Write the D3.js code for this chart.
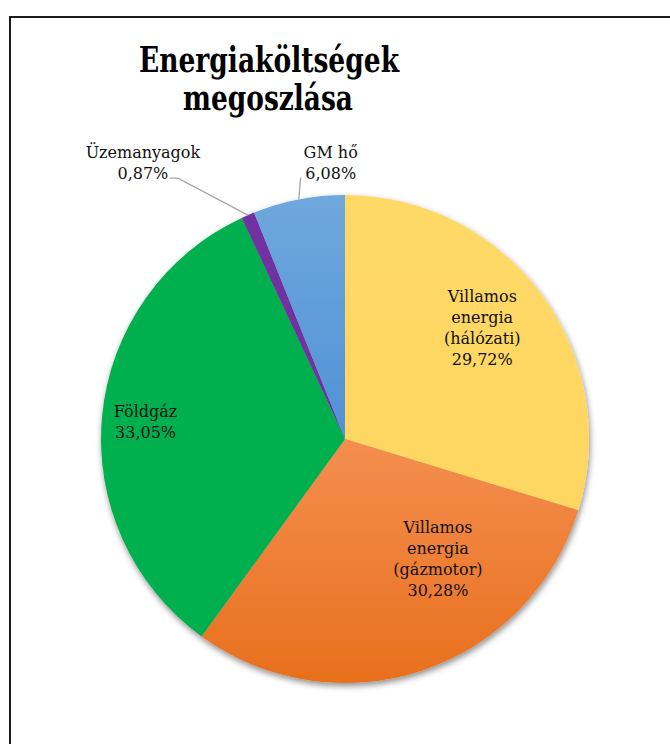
<!DOCTYPE html>
<html>
<head>
<meta charset="utf-8">
<script src="https://cdn.jsdelivr.net/npm/d3@7"></script>
<style>
  body { margin:0; background:#fff; }
  svg { display:block; }
</style>
</head>
<body>
<div id="chart"></div>
<script>
// donnees du graphique
var categories = ["Villamos energia (hálózati)", "Villamos energia (gázmotor)", "Földgáz", "Üzemanyagok", "GM hő"];
var labelLines = [["Villamos", "energia", "(hálózati)"], ["Villamos", "energia", "(gázmotor)"], ["Földgáz"], ["Üzemanyagok"], ["GM hő"]];
var values = [29.72, 30.28, 33.05, 0.87, 6.08];
var valueLabels = ["29,72%", "30,28%", "33,05%", "0,87%", "6,08%"];
var title = ["Energiaköltségek", "megoszlása"];

// styles
var fills = [["#FFD966", "#FED662"], ["#F48E4F", "#E8701D"], ["#00B050", "#00B050"], ["#7030A0", "#7030A0"], ["#70A8DD", "#4F91D6"]];
// decalage des etiquettes par rapport au centroide (layout)
var labelNudge = [[-2, -7], [38, -44], [-27, 0], [null], [null]];
var outsideLabel = [null, null, null, [-105, -57], [32, -41]];

var width = 670, height = 744;
var cx = 345, cy = 439, radius = 244;

var svg = d3.select("#chart").append("svg").attr("width", width).attr("height", height);

var defs = svg.append("defs");
var filter = defs.append("filter").attr("id", "ombre").attr("x", "-10%").attr("y", "-10%").attr("width", "125%").attr("height", "125%");
filter.append("feDropShadow").attr("dx", 1).attr("dy", 3).attr("stdDeviation", 3)
  .attr("flood-color", "#000").attr("flood-opacity", 0.45);

fills.forEach(function(f, i){
  var g = defs.append("linearGradient").attr("id", "grad" + i).attr("x1", 0).attr("y1", 0).attr("x2", 0).attr("y2", 1);
  g.append("stop").attr("offset", "0%").attr("stop-color", f[0]);
  g.append("stop").attr("offset", "100%").attr("stop-color", f[1]);
});

// cadre (seulement haut et gauche visibles)
svg.append("rect").attr("x", 10).attr("y", 17).attr("width", 800).attr("height", 900)
  .attr("fill", "none").attr("stroke", "#1a1a1a").attr("stroke-width", 2);

// titre
var titleG = svg.append("g").attr("font-family", "'DejaVu Serif', serif").attr("font-weight", "bold")
  .attr("font-size", 36).attr("fill", "#000").attr("text-anchor", "middle");
titleG.append("text").attr("x", 269).attr("y", 72).attr("textLength", 260).attr("lengthAdjust", "spacingAndGlyphs").text(title[0]);
titleG.append("text").attr("x", 268).attr("y", 110).attr("textLength", 170).attr("lengthAdjust", "spacingAndGlyphs").text(title[1]);

var pie = d3.pie().sort(null).value(function(d){ return d; });
var arcs = pie(values);
var arc = d3.arc().innerRadius(0).outerRadius(radius);
var labelArc = d3.arc().innerRadius(radius * 0.71).outerRadius(radius * 0.71);
var edgeArc = d3.arc().innerRadius(radius).outerRadius(radius);

var pieG = svg.append("g").attr("transform", "translate(" + cx + "," + cy + ")");
pieG.append("g").attr("filter", "url(#ombre)")
  .selectAll("path").data(arcs).enter().append("path")
  .attr("d", arc)
  .attr("fill", function(d, i){ return "url(#grad" + i + ")"; });

// etiquettes
var lineH = 21;
var textG = pieG.append("g").attr("font-family", "'DejaVu Serif', serif").attr("font-size", 16)
  .attr("fill", "#111").attr("text-anchor", "middle");

arcs.forEach(function(d, i){
  var lines = labelLines[i].concat([valueLabels[i]]);
  if (outsideLabel[i] === null) {
    var c = labelArc.centroid(d);
    var x = c[0] + labelNudge[i][0], y = c[1] + labelNudge[i][1];
    var y0 = y - (lines.length - 1) * lineH / 2 + 5;
    lines.forEach(function(l, k){
      textG.append("text").attr("x", x).attr("y", y0 + k * lineH).text(l);
    });
  } else {
    var e = edgeArc.centroid(d);
    var lx = e[0] + outsideLabel[i][0], ly = e[1] + outsideLabel[i][1];
    lines.forEach(function(l, k){
      textG.append("text").attr("x", lx).attr("y", ly + k * lineH).text(l);
    });
    // ligne de rappel
    var pts;
    if (i === 3) {
      pts = [[lx + 27, ly + lineH - 1], [lx + 35, ly + lineH - 1], [e[0], e[1]]];
    } else {
      pts = [[lx - 30, ly + lineH - 2], [e[0], e[1]]];
    }
    pieG.append("path").attr("d", d3.line()(pts)).attr("fill", "none")
      .attr("stroke", "#A6A6A6").attr("stroke-width", 1.3);
  }
});
</script>
</body>
</html>
